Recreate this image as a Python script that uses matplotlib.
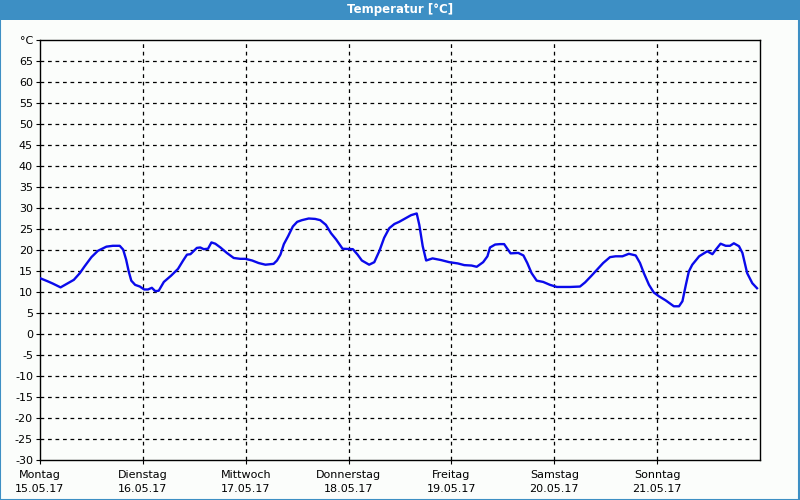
import matplotlib
matplotlib.use("Agg")
import matplotlib.pyplot as plt
from matplotlib.patches import Rectangle

title = "Temperatur [°C]"
day_names = ["Montag", "Dienstag", "Mittwoch", "Donnerstag", "Freitag", "Samstag", "Sonntag"]
day_dates = ["15.05.17", "16.05.17", "17.05.17", "18.05.17", "19.05.17", "20.05.17", "21.05.17"]
y_ticks = list(range(-30, 70, 5))
y_unit = "°C"

# hours since Monday 00:00
hours = [0.0, 1.9, 3.0, 4.8, 6.5, 7.9, 9.3, 10.4, 12.0, 13.5, 15.5, 17.0, 18.6, 19.4, 20.1,
         20.7, 21.3, 22.2, 23.3, 24.3, 25.2, 26.1, 26.9, 27.7, 28.9, 30.6, 32.2, 33.4, 34.3,
         35.1, 36.6, 37.4, 38.2, 39.2, 40.0, 40.9, 42.1, 43.6, 45.2, 46.7, 47.9, 49.5, 51.0,
         52.6, 54.5, 55.3, 56.1, 56.9, 57.9, 59.0, 60.0, 61.1, 62.7, 64.2, 65.4, 66.7, 67.9,
         69.1, 70.6, 73.0, 74.1, 75.1, 76.8, 78.0, 79.2, 80.3, 81.5, 82.7, 83.8, 85.4, 86.6,
         87.9, 88.5, 89.3, 90.1, 91.6, 93.6, 95.5, 97.5, 99.0, 100.7, 101.9, 103.4, 104.4,
         105.0, 106.2, 107.3, 108.3, 108.9, 109.8, 111.6, 112.8, 113.7, 114.7, 115.9, 117.4,
         119.0, 120.6, 123.7, 126.0, 127.2, 128.7, 130.3, 131.4, 133.0, 134.3, 135.9, 137.4,
         139.0, 140.0, 140.9, 142.1, 143.2, 144.4, 146.0, 147.9, 149.1, 149.9, 150.7, 151.4,
         152.2, 153.8, 155.7, 156.9, 157.7, 158.8, 160.0, 161.0, 161.9, 163.1, 163.9, 165.0,
         166.2, 167.3]
temps = [13.3, 12.5, 12.0, 11.1, 12.1, 12.9, 14.5, 16.1, 18.3, 19.8, 20.8, 21.0, 21.0, 20.1, 17.7,
         14.9, 12.7, 11.7, 11.3, 10.6, 10.6, 11.0, 10.2, 10.3, 12.4, 13.9, 15.5, 17.5, 18.9,
         19.0, 20.5, 20.6, 20.2, 20.3, 21.8, 21.5, 20.6, 19.3, 18.1, 17.9, 17.9, 17.5, 16.9,
         16.5, 16.7, 17.5, 18.9, 21.4, 23.3, 25.6, 26.7, 27.1, 27.5, 27.4, 27.1, 26.0, 24.0,
         22.5, 20.3, 20.2, 18.9, 17.5, 16.5, 17.1, 19.8, 22.9, 25.2, 26.2, 26.7, 27.6, 28.3,
         28.7, 26.0, 20.9, 17.5, 18.0, 17.6, 17.1, 16.8, 16.4, 16.3, 16.0, 17.1, 18.5,
         20.6, 21.3, 21.4, 21.4, 20.5, 19.2, 19.3, 18.7, 16.9, 14.5, 12.7, 12.4,
         11.7, 11.2, 11.2, 11.3, 12.3, 13.9, 15.7, 16.9, 18.3, 18.5, 18.5, 19.1,
         18.7, 16.9, 14.5, 11.7, 9.9, 9.0, 8.0, 6.6, 6.6, 7.8, 11.7, 14.9,
         16.5, 18.5, 19.7, 19.0, 20.1, 21.5, 21.0, 21.0, 21.6, 20.9, 19.3, 14.5,
         12.1, 10.9]

bg = "#fbfdfb"
bar = "#3d8fc4"

fig = plt.figure(figsize=(8, 5), dpi=100, facecolor=bg)
# title bar and frame
fig.patches.append(Rectangle((0, 0.96), 1, 0.04, transform=fig.transFigure,
                             facecolor=bar, edgecolor="none", zorder=0))
fig.patches.append(Rectangle((0.0006, 0.001), 0.9982, 0.998, transform=fig.transFigure,
                             facecolor="none", edgecolor=bar, linewidth=1.5, zorder=1))
fig.text(0.5, 0.98, title, color="white", fontsize=8.5, fontweight="bold",
         ha="center", va="center", family="DejaVu Sans")

ax = fig.add_axes([0.05, 0.08, 0.9, 0.84])
ax.set_facecolor(bg)
ax.plot(hours, temps, color="#0a0aeb", linewidth=1.7, solid_joinstyle="round", zorder=3)

ax.set_xlim(0, 168)
ax.set_ylim(-30, 70)
ax.set_yticks(y_ticks + [70])
ax.set_yticklabels([str(v) for v in y_ticks] + [y_unit])
ax.set_xticks([24 * i for i in range(7)])
ax.set_xticklabels([f"{n}\n{d}" for n, d in zip(day_names, day_dates)], linespacing=1.55)

for v in y_ticks[1:]:
    ax.axhline(v, color="black", linestyle=(0, (3, 3)), linewidth=0.9, zorder=1)
for i in range(1, 7):
    ax.axvline(24 * i, color="black", linestyle=(0, (3, 3)), linewidth=0.9, zorder=1)

for s in ax.spines.values():
    s.set_color("black")
    s.set_linewidth(1.0)
ax.tick_params(axis="y", length=3, width=0.8, pad=2, labelsize=8, colors="black")
ax.tick_params(axis="x", length=3, width=0.8, pad=4, labelsize=8, colors="black")

fig.savefig("out.png", dpi=100, facecolor=bg)
